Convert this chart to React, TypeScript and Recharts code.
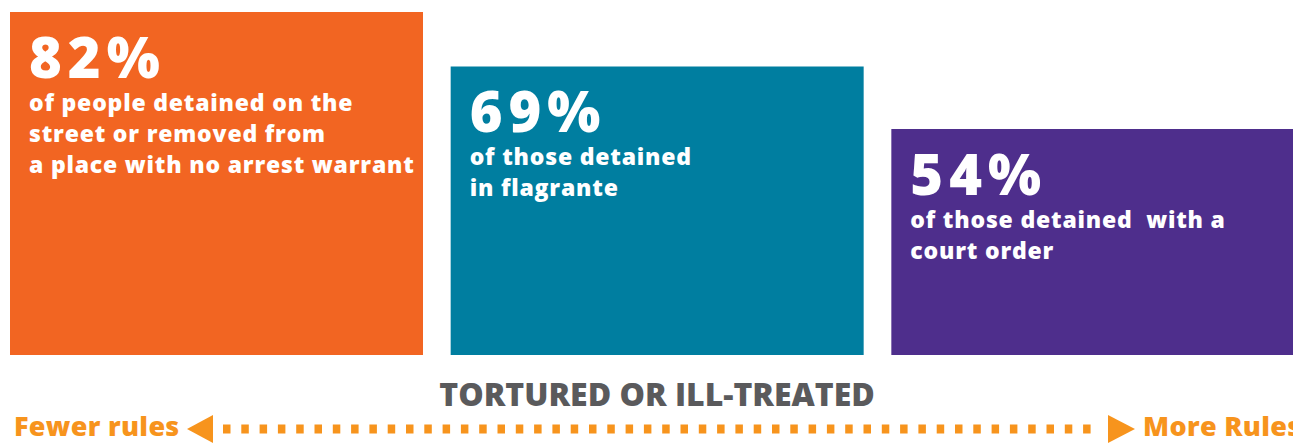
import { BarChart, Bar, XAxis, YAxis, Cell, LabelList } from "recharts";

const categories = ["street", "flagrante", "court"];
const values = [82, 69, 54];
const percentLabels = ["82%", "69%", "54%"];
const descriptions = [
  ["of people detained on the", "street or removed from", "a place with no arrest warrant"],
  ["of those detained", "in flagrante"],
  ["of those detained  with a", "court order"],
];
const colors = ["#F26522", "#007EA0", "#4E2E8C"];
const axisTitle = "TORTURED OR ILL-TREATED";
const leftLabel = "Fewer rules";
const rightLabel = "More Rules";

const FONT = "'Open Sans', Lato, sans-serif";
const ORANGE = "#F7941D";

const data = categories.map((c, i) => ({ name: c, value: values[i] }));

function BarText(props: any) {
  const { x, y, index } = props;
  const lines = descriptions[index] || [];
  const tx = Number(x) + 19;
  const ty = Number(y);
  return (
    <g fill="#fff" fontFamily={FONT}>
      <text x={tx} y={ty + 66} fontSize={56} fontWeight={800} letterSpacing={6}>
        {percentLabels[index]}
      </text>
      {lines.map((l, i) => (
        <text key={i} x={tx} y={ty + 99 + i * 31} fontSize={23} fontWeight={800} letterSpacing={0.8} style={{ whiteSpace: "pre" }}>
          {l}
        </text>
      ))}
    </g>
  );
}

export default function App() {
  return (
    <div style={{ position: "absolute", left: 0, top: 0, width: 1293, height: 443, overflow: "hidden", background: "#fff" }}>
      <div style={{ position: "absolute", left: -4, top: 0 }}>
        <BarChart width={1322} height={443} data={data} margin={{ top: 12, right: 0, left: 0, bottom: 88 }} barCategoryGap={14}>
          <XAxis dataKey="name" hide />
          <YAxis hide domain={[0, 82]} />
          <Bar dataKey="value" isAnimationActive={false}>
            {data.map((_, i) => (
              <Cell key={i} fill={colors[i]} />
            ))}
            <LabelList dataKey="value" content={<BarText />} />
          </Bar>
        </BarChart>
      </div>
      <svg width={1293} height={443} style={{ position: "absolute", left: 0, top: 0 }}>
        <text x={657} y={406} textAnchor="middle" fontFamily={FONT} fontWeight={800} fontSize={32} fill="#5A5A5C">
          {axisTitle}
        </text>
        <text x={14} y={436} fontFamily={FONT} fontWeight={800} fontSize={27} letterSpacing={0.3} fill={ORANGE}>
          {leftLabel}
        </text>
        <polygon points="187,429 213,415 213,443" fill={ORANGE} />
        <line x1={223} y1={429} x2={1100} y2={429} stroke={ORANGE} strokeWidth={9} strokeDasharray="7.5 10.8" />
        <polygon points="1135,429 1108,415 1108,443" fill={ORANGE} />
        <text x={1143} y={436} fontFamily={FONT} fontWeight={800} fontSize={27} letterSpacing={0.3} fill={ORANGE}>
          {rightLabel}
        </text>
      </svg>
    </div>
  );
}
